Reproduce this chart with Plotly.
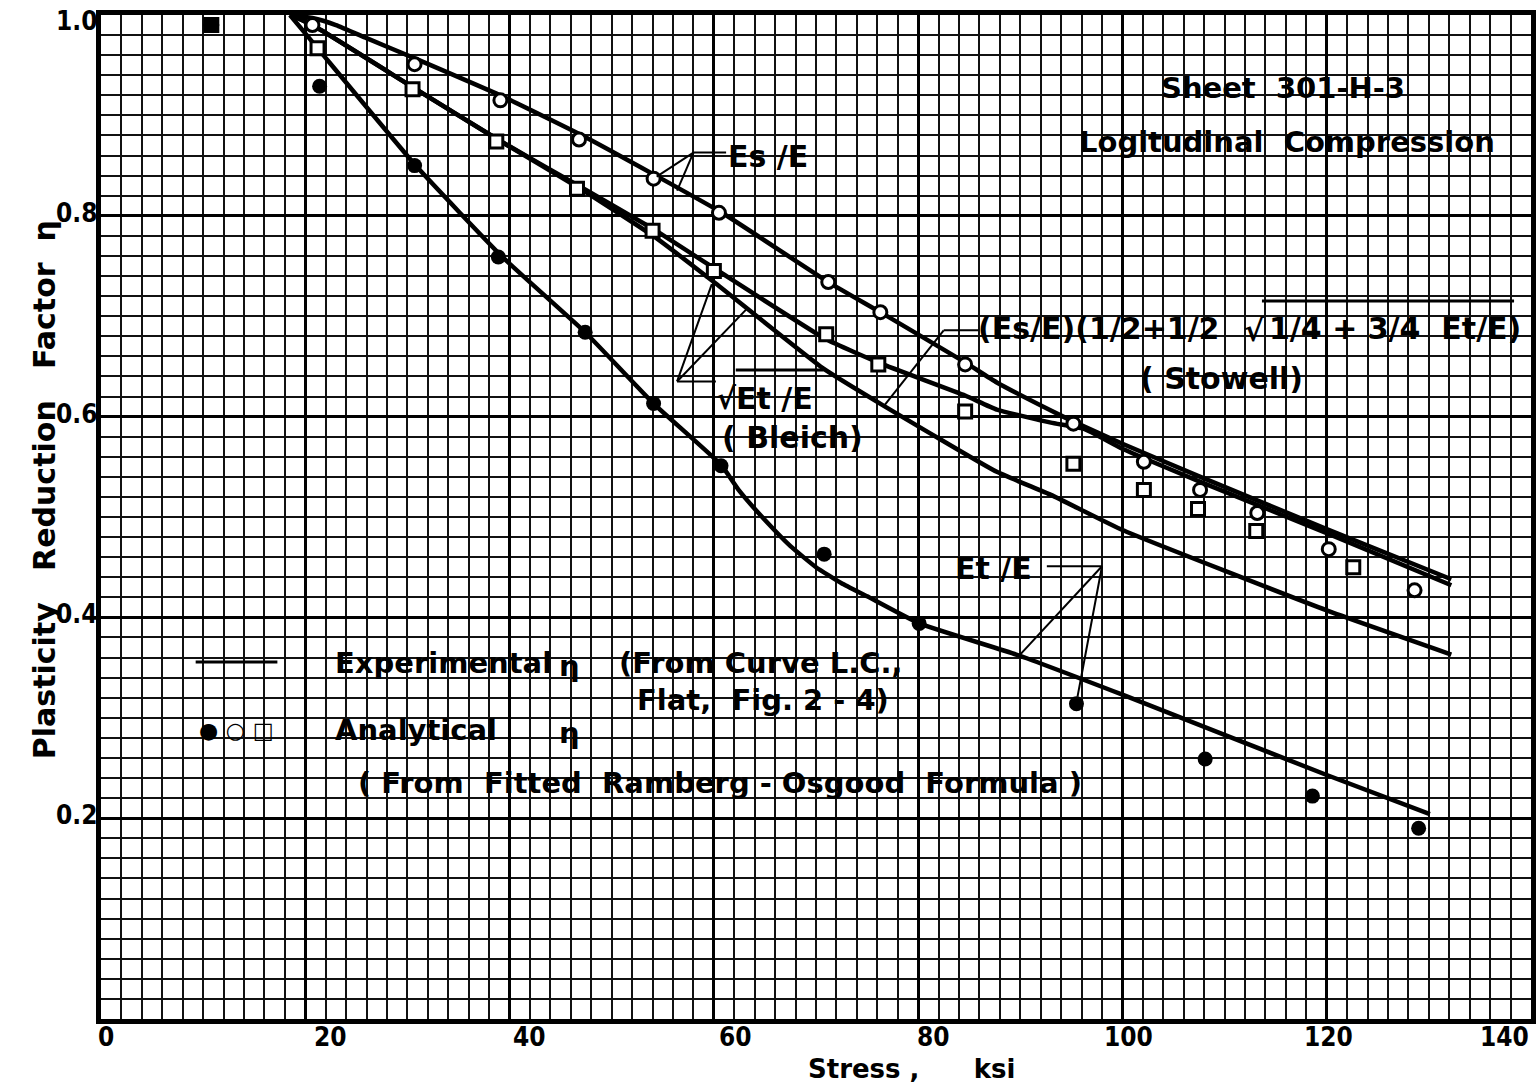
import plotly.graph_objects as go

# ---------------- data ----------------
# Experimental curves (solid lines)
es_x = [18.5, 20.7, 23.0, 26.0, 30.9, 39.5, 47.3, 54.5, 60.8, 71.2, 76.3, 84.6, 87.7, 93.0, 95.2, 100.0, 107.4, 120.0, 132.2]
es_y = [1.0, 0.997, 0.99, 0.977, 0.956, 0.918, 0.879, 0.839, 0.803, 0.734, 0.704, 0.654, 0.634, 0.606, 0.595, 0.573, 0.541, 0.488, 0.438]

bleich_x = [18.5, 20.7, 30.7, 39.0, 47.1, 54.2, 60.3, 71.0, 76.3, 84.6, 87.7, 93.0, 96.2, 100.0, 107.4, 120.0, 132.2]
bleich_y = [1.0, 0.99, 0.927, 0.875, 0.828, 0.786, 0.746, 0.677, 0.653, 0.621, 0.607, 0.594, 0.588, 0.568, 0.536, 0.484, 0.432]

stowell_x = [18.5, 20.7, 30.7, 39.0, 47.1, 54.2, 60.0, 70.7, 76.6, 87.7, 93.0, 100.0, 120.0, 132.2]
stowell_y = [1.0, 0.99, 0.927, 0.875, 0.826, 0.779, 0.734, 0.648, 0.611, 0.545, 0.522, 0.487, 0.407, 0.363]

et_x = [18.5, 21.2, 30.9, 39.3, 47.4, 54.1, 60.7, 62.5, 65.0, 67.5, 70.0, 72.5, 75.0, 80.1, 89.6, 100.0, 120.0, 130.1]
et_y = [1.0, 0.967, 0.849, 0.759, 0.684, 0.613, 0.552, 0.526, 0.497, 0.471, 0.450, 0.434, 0.421, 0.394, 0.363, 0.323, 0.243, 0.204]

# Analytical points (Ramberg-Osgood)
es_pts_x = [10.8, 20.7, 30.7, 39.1, 46.8, 54.1, 60.5, 71.2, 76.3, 84.6, 95.2, 102.1, 107.6, 113.2, 120.2, 128.6]
es_pts_y = [0.99, 0.99, 0.951, 0.915, 0.876, 0.837, 0.803, 0.734, 0.704, 0.652, 0.593, 0.555, 0.527, 0.504, 0.468, 0.427]

bleich_pts_x = [10.8, 21.2, 30.5, 38.7, 46.6, 54.0, 60.0, 71.0, 76.1, 84.6, 95.2, 102.1, 107.4, 113.1, 122.6]
bleich_pts_y = [0.99, 0.967, 0.926, 0.874, 0.827, 0.785, 0.745, 0.682, 0.652, 0.605, 0.553, 0.527, 0.508, 0.486, 0.450]

et_pts_x = [10.8, 21.4, 30.7, 38.9, 47.4, 54.1, 60.7, 70.8, 80.1, 95.5, 108.1, 118.6, 129.0]
et_pts_y = [0.99, 0.929, 0.850, 0.759, 0.684, 0.613, 0.551, 0.463, 0.394, 0.314, 0.259, 0.222, 0.190]

x_tick_vals = [0, 20, 40, 60, 80, 100, 120, 140]
x_tick_text = ["0", "20", "40", "60", "80", "100", "120", "140"]
y_tick_vals = [0.2, 0.4, 0.6, 0.8, 1.0]
y_tick_text = ["0.2", "0.4", "0.6", "0.8", "1.0"]

# ---------------- layout geometry ----------------
W, H = 1539, 1084
ML, MR, MT, MB = 101, 3, 15, 65
PW, PH = W - ML - MR, H - MT - MB
X_MAX, Y_MAX = 140, 1.0


def dx(px):
    return (px - ML) / PW * X_MAX


def dy(py):
    return (MT + PH - py) / PH * Y_MAX


def py_paper(py):
    return (MT + PH - py) / PH


def px_paper(px):
    return (px - ML) / PW


FONT = "DejaVu Sans, sans-serif"
FONT_C = "DejaVu Sans Condensed, DejaVu Sans, sans-serif"
BLACK = "#000000"
NB = "\u00a0"

fig = go.Figure()

for xs, ys in [(es_x, es_y), (bleich_x, bleich_y), (stowell_x, stowell_y), (et_x, et_y)]:
    fig.add_trace(go.Scatter(x=xs, y=ys, mode="lines",
                             line=dict(color=BLACK, width=4.5, shape="spline", smoothing=0.4),
                             showlegend=False, hoverinfo="skip"))

fig.add_trace(go.Scatter(x=es_pts_x, y=es_pts_y, mode="markers",
                         marker=dict(symbol="circle", size=13, color="white", line=dict(color=BLACK, width=3)),
                         showlegend=False))
fig.add_trace(go.Scatter(x=bleich_pts_x, y=bleich_pts_y, mode="markers",
                         marker=dict(symbol="square", size=13, color="white", line=dict(color=BLACK, width=3)),
                         showlegend=False))
fig.add_trace(go.Scatter(x=et_pts_x, y=et_pts_y, mode="markers",
                         marker=dict(symbol="circle", size=15, color=BLACK), showlegend=False))

# ---------------- annotations ----------------
ann = []


def text(s, px, py, size=29, anchor="left", angle=0, family=FONT):
    ann.append(dict(text=s, x=dx(px), y=dy(py), xref="x", yref="y", showarrow=False,
                    xanchor=anchor, yanchor="middle", textangle=angle,
                    font=dict(family=family, size=size, color=BLACK, weight="bold")))


text("Sheet" + NB * 2 + "301-H-3", 1287, 88, anchor="center")
text("Logitudinal" + NB * 2 + "Compression", 1291, 142, anchor="center")
text("Es" + NB + "/E", 728, 156, size=30)
text("√Et" + NB + "/E", 716, 398, size=30)
text("(" + NB + "Bleich)", 722, 437, size=30)
text("(Es/E)(1/2+1/2", 979, 328, size=30)
text("√", 1246, 330, size=30)
text("1/4" + NB + "+" + NB + "3/4" + NB + NB + "Et/E)", 1271, 328, size=30)
text("(" + NB + "Stowell)", 1225, 378, size=30, anchor="center")
text("Et" + NB + "/E", 956, 568, size=30)
text("Experimental", 334, 663)
text("η", 571, 666, anchor="center")
text("(From" + NB + "Curve" + NB + "L.C.,", 619, 663)
text("Flat," + NB + NB + "Fig." + NB + "2" + NB + "-" + NB + "4)", 637, 700)
text("●" + NB + "○" + NB + "□", 237, 730, size=22, anchor="center")
text("Analytical", 334, 730)
text("η", 571, 733, anchor="center")
text("(" + NB + "From" + NB * 2 + "Fitted" + NB * 2 + "Ramberg" + NB + "-" + NB + "Osgood" + NB * 2 + "Formula" + NB + ")",
     357, 783)

# x tick labels
x_label_shift = {0: 5, 20: 25, 40: 20, 60: 22, 80: 15, 100: 6, 120: 2, 140: -27}
for v, t in zip(x_tick_vals, x_tick_text):
    ann.append(dict(text=t, x=v, y=py_paper(1037), xref="x", yref="paper", showarrow=False,
                    xanchor="center", yanchor="middle", xshift=x_label_shift[v],
                    font=dict(family=FONT_C, size=26, color=BLACK, weight="bold")))

# y tick labels
for v, t in zip(y_tick_vals, y_tick_text):
    ann.append(dict(text=t, x=px_paper(99), y=v, xref="paper", yref="y", showarrow=False,
                    xanchor="right", yanchor="middle", yshift=(-6 if v == Y_MAX else 3),
                    font=dict(family=FONT_C, size=26, color=BLACK, weight="bold")))

# axis titles
ann.append(dict(text="Stress" + NB + "," + NB * 6 + "ksi", x=px_paper(808), y=py_paper(1069),
                xref="paper", yref="paper", showarrow=False, xanchor="left", yanchor="middle",
                font=dict(family=FONT, size=26, color=BLACK, weight="bold")))
ann.append(dict(text="Plasticity" + NB * 3 + "Reduction" + NB * 3 + "Factor" + NB * 2 + "η",
                x=px_paper(44), y=py_paper(490), xref="paper", yref="paper", showarrow=False,
                xanchor="center", yanchor="middle", textangle=-90,
                font=dict(family=FONT, size=30, color=BLACK, weight="bold")))

# ---------------- leader lines, radical bars, legend line ----------------
shapes = []


def seg(x0, y0, x1, y1, w=2):
    shapes.append(dict(type="line", xref="x", yref="y", x0=x0, y0=y0, x1=x1, y1=y1,
                       line=dict(color=BLACK, width=w)))


# Es/E leader
seg(58.0, 0.863, 61.2, 0.863)
seg(58.0, 0.863, 54.4, 0.839)
seg(58.0, 0.863, 56.4, 0.825)
# Bleich leader
seg(56.4, 0.635, 60.2, 0.635)
seg(56.4, 0.635, 59.8, 0.732)
seg(56.4, 0.635, 63.2, 0.707)
# Stowell leader
seg(82.5, 0.686, 85.9, 0.686)
seg(82.5, 0.686, 76.6, 0.610)
# Et/E leader
seg(92.6, 0.451, 98.0, 0.451)
seg(98.0, 0.451, 89.8, 0.361)
seg(98.0, 0.451, 95.6, 0.321)
# radical overbars
seg(dx(738), dy(370), dx(826), dy(370), 3)
seg(dx(1266), dy(301), dx(1519), dy(301), 3)
# legend line sample
seg(dx(196), dy(662), dx(278), dy(662), 3)

minor_x = [2 * i for i in range(71) if (2 * i) % 20 != 0]
minor_y = [round(0.02 * i, 2) for i in range(51) if i % 10 != 0]

fig.update_layout(
    width=W, height=H,
    margin=dict(l=ML, r=MR, t=MT, b=MB, pad=0),
    paper_bgcolor="white", plot_bgcolor="white",
    annotations=ann, shapes=shapes,
    xaxis=dict(range=[0, X_MAX], showgrid=True, gridcolor=BLACK, gridwidth=2.5,
               tickmode="array", tickvals=x_tick_vals,
               minor=dict(tickmode="array", tickvals=minor_x, showgrid=True, gridcolor="#111111", gridwidth=1.6),
               showticklabels=False, ticks="", zeroline=False,
               showline=True, mirror=True, linecolor=BLACK, linewidth=4.5),
    yaxis=dict(range=[0, Y_MAX], showgrid=True, gridcolor=BLACK, gridwidth=2.5,
               tickmode="array", tickvals=y_tick_vals, showticklabels=False, ticks="",
               minor=dict(tickmode="array", tickvals=minor_y, showgrid=True, gridcolor="#111111", gridwidth=1.6),
               zeroline=False, showline=True, mirror=True, linecolor=BLACK, linewidth=4.5),
)

fig.write_html("out.html")
